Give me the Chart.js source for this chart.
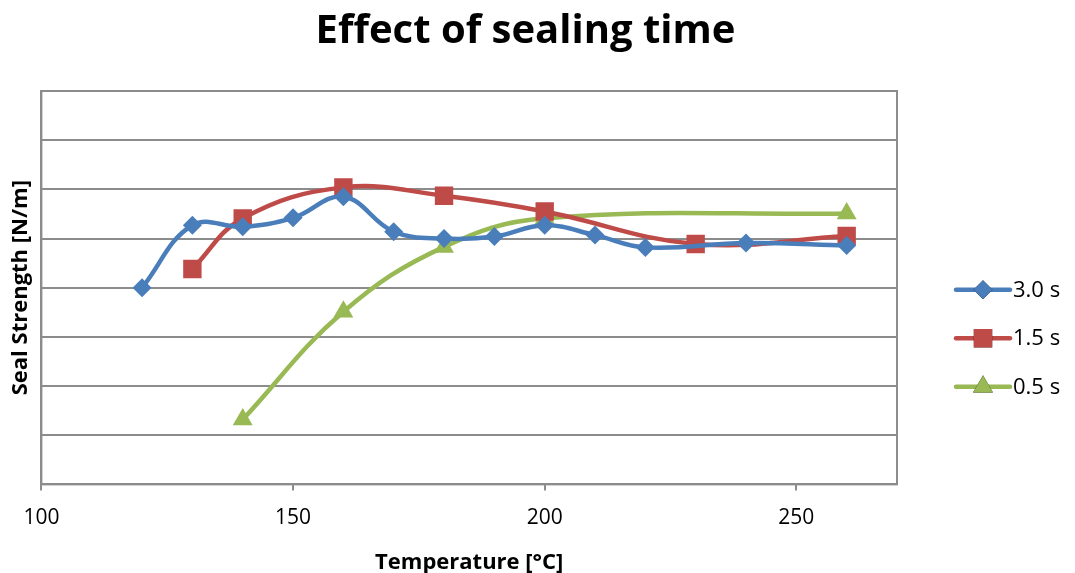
<!DOCTYPE html>
<html>
<head>
<meta charset="utf-8">
<script src="https://cdn.jsdelivr.net/npm/chart.js@4.4.1/dist/chart.umd.min.js"></script>
<style>
  html, body { margin: 0; padding: 0; background: #fff; }
  #wrap { width: 1075px; height: 573px; position: relative; }
</style>
</head>
<body>
<div id="wrap"><canvas id="chart"></canvas></div>
<script>
// Seal strength vs. sealing temperature for three dwell times.
const seriesLabels = ['3.0 s', '1.5 s', '0.5 s'];

const temp30 = [120, 130, 140, 150, 160, 170, 180, 190, 200, 210, 220, 240, 260];
const strength30 = [4.0, 5.27, 5.24, 5.42, 5.85, 5.14, 5.0, 5.04, 5.27, 5.07, 4.82, 4.91, 4.86];

const temp15 = [130, 140, 160, 180, 200, 230, 260];
const strength15 = [4.38, 5.41, 6.04, 5.87, 5.55, 4.89, 5.05];

const temp05 = [140, 160, 180, 200, 260];
const strength05 = [1.32, 3.51, 4.83, 5.41, 5.51];

const xTicks = [100, 150, 200, 250];

const FONT = '"Open Sans", "DejaVu Sans", sans-serif';
const GRID = '#8c8c8c';
const colors = ['#4a7ebb', '#be4b48', '#98b954'];
const markers = ['rectRot', 'rect', 'triangle'];
const markerSizes = [9.5, 13, 11.5];
const LEGEND_GUTTER = 150;

function toPoints(xs, ys) {
  return xs.map((x, i) => ({ x, y: ys[i] }));
}

const seriesData = [
  toPoints(temp30, strength30),
  toPoints(temp15, strength15),
  toPoints(temp05, strength05),
];

// Excel-style legend: a short line with the marker on it, to the right of the plot.
const sideLegend = {
  id: 'sideLegend',
  afterDraw(chart) {
    const { ctx, chartArea } = chart;
    const midY = (chartArea.top + chartArea.bottom) / 2;
    const x0 = chartArea.right + 59;
    ctx.save();
    chart.data.datasets.forEach((ds, i) => {
      const y = midY + 2 + i * 48.5;
      ctx.strokeStyle = ds.borderColor;
      ctx.lineWidth = 4.5;
      ctx.lineCap = 'round';
      ctx.beginPath();
      ctx.moveTo(x0, y);
      ctx.lineTo(x0 + 54, y);
      ctx.stroke();
      Chart.helpers.drawPoint(ctx, {
        pointStyle: ds.pointStyle,
        radius: ds.pointRadius,
        rotation: 0,
        borderWidth: 0,
      }, x0 + 27, y);
      ctx.fillStyle = ds.backgroundColor;
      ctx.fill();
      ctx.fillStyle = '#000';
      ctx.font = '22px ' + FONT;
      ctx.textBaseline = 'middle';
      ctx.fillText(ds.label, x0 + 57, y + 1);
    });
    ctx.restore();
  },
};

// Box round the plot area.
const plotFrame = {
  id: 'plotFrame',
  beforeDatasetsDraw(chart) {
    const { ctx, chartArea } = chart;
    ctx.save();
    ctx.strokeStyle = GRID;
    ctx.lineWidth = 2;
    ctx.strokeRect(chartArea.left, chartArea.top, chartArea.right - chartArea.left, chartArea.bottom - chartArea.top);
    ctx.restore();
  },
};

new Chart(document.getElementById('chart'), {
  type: 'line',
  data: {
    datasets: seriesData.map((data, i) => ({
      label: seriesLabels[i],
      data,
      borderColor: colors[i],
      backgroundColor: colors[i],
      borderWidth: 4.5,
      tension: 0.4,
      pointStyle: markers[i],
      pointRadius: markerSizes[i],
      pointBorderWidth: 0,
      pointBackgroundColor: colors[i],
      fill: false,
    })),
  },
  options: {
    responsive: true,
    maintainAspectRatio: false,
    animation: false,
    layout: { padding: { top: 0, right: 28, bottom: -3, left: 4 } },
    scales: {
      x: {
        type: 'linear',
        min: 100,
        max: 270,
        afterBuildTicks: (axis) => { axis.ticks = xTicks.map((v) => ({ value: v })); },
        ticks: { color: '#000', font: { family: FONT, size: 21 }, padding: 15 },
        grid: { display: true, drawOnChartArea: false, tickLength: 6, color: GRID, lineWidth: 2 },
        border: { color: GRID, width: 2 },
        title: { display: true, text: 'Temperature [°C]', color: '#000', font: { family: FONT, size: 22, weight: 'bold' }, padding: { top: 4, bottom: 0 } },
      },
      y: {
        min: 0,
        max: 8,
        ticks: { display: false, stepSize: 1 },
        grid: { color: GRID, lineWidth: 2, tickLength: 0 },
        border: { color: GRID, width: 2 },
        title: { display: true, text: 'Seal Strength [N/m]', color: '#000', font: { family: FONT, size: 22, weight: 'bold' }, padding: { top: 4, bottom: 7 } },
      },
      // empty right-hand axis that only reserves room for the legend
      legendGutter: {
        position: 'right',
        min: 0,
        max: 8,
        ticks: { display: false },
        grid: { display: false },
        border: { display: false },
        afterFit: (axis) => { axis.width = LEGEND_GUTTER; },
      },
    },
    plugins: {
      legend: { display: false },
      tooltip: { enabled: false },
      title: {
        display: true,
        text: 'Effect of sealing time',
        color: '#000',
        font: { family: FONT, size: 40, weight: 'bold' },
        padding: { top: 8, bottom: 35 },
      },
    },
  },
  plugins: [plotFrame, sideLegend],
});
</script>
</body>
</html>
